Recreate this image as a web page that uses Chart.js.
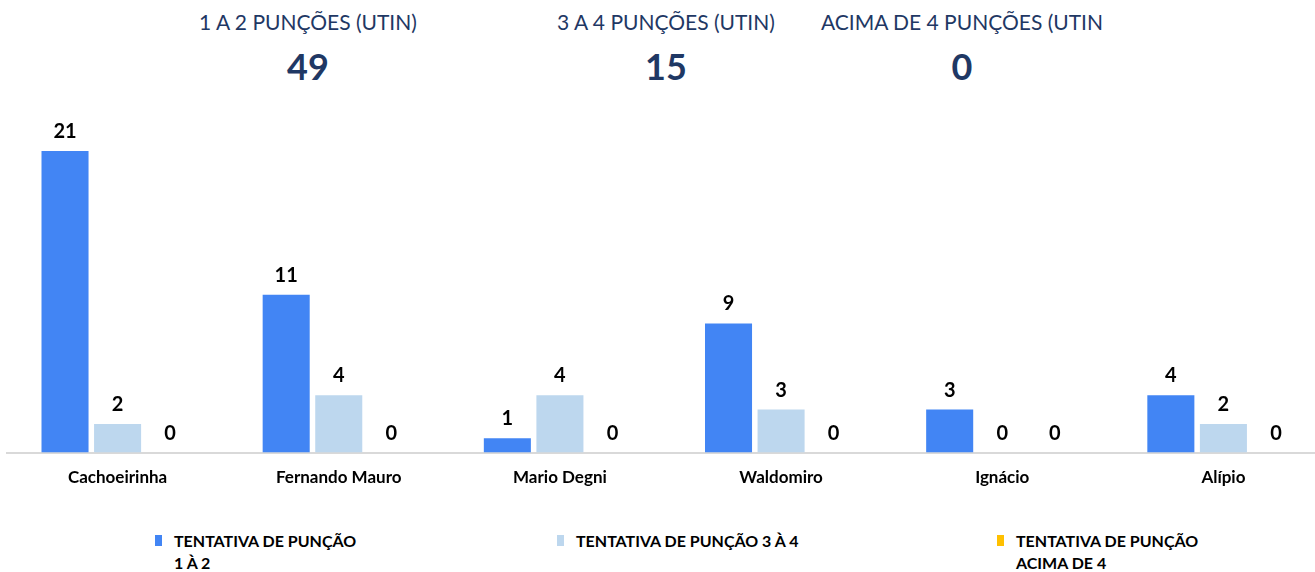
<!DOCTYPE html>
<html>
<head>
<meta charset="utf-8">
<script src="https://cdn.jsdelivr.net/npm/chart.js@4"></script>
<style>
    body { margin: 0; width: 1315px; height: 572px; overflow: hidden; background: #fff;
           font-family: Lato, 'Open Sans', sans-serif; position: relative; }
    .kpi { position: absolute; width: 320px; text-align: center; color: #1f3864; }
    .kpi .titulo { font-size: 21px; position: absolute; top: 9px; width: 100%; white-space: nowrap; }
    .kpi .valor { font-size: 36px; font-weight: bold; position: absolute; top: 44px; width: 100%; }
    #grafica { position: absolute; left: 0; top: 0; }
    .leyenda { position: absolute; top: 530px; font-size: 16px; font-weight: bold; color: #000; line-height: 22px; white-space: nowrap; }
    .leyenda span.caja { position: absolute; left: -19px; top: 5px; width: 7px; height: 11px; }
</style>
</head>
<body>
<div class="kpi" style="left:148px"><div class="titulo">1 A 2 PUNÇÕES (UTIN)</div><div class="valor">49</div></div>
<div class="kpi" style="left:506px"><div class="titulo">3 A 4 PUNÇÕES (UTIN)</div><div class="valor">15</div></div>
<div class="kpi" style="left:802px"><div class="titulo">ACIMA DE 4 PUNÇÕES (UTIN</div><div class="valor">0</div></div>

<canvas id="grafica" width="1334" height="503"></canvas>

<div class="leyenda" style="left:174px"><span class="caja" style="background:#4285f4"></span>TENTATIVA DE PUNÇÃO<br>1 À 2</div>
<div class="leyenda" style="left:576px"><span class="caja" style="background:#bdd7ee"></span>TENTATIVA DE PUNÇÃO 3 À 4</div>
<div class="leyenda" style="left:1016px"><span class="caja" style="background:#ffc000"></span>TENTATIVA DE PUNÇÃO<br>ACIMA DE 4</div>

<script>
const unidades = ['Cachoeirinha', 'Fernando Mauro', 'Mario Degni', 'Waldomiro', 'Ignácio', 'Alípio'];
const puncao1a2 = [21, 11, 1, 9, 3, 4];
const puncao3a4 = [2, 4, 4, 3, 0, 2];
const puncaoAcima4 = [0, 0, 0, 0, 0, 0];
const nomesSeries = ['TENTATIVA DE PUNÇÃO 1 À 2', 'TENTATIVA DE PUNÇÃO 3 À 4', 'TENTATIVA DE PUNÇÃO ACIMA DE 4'];

const fonte = "Lato, 'Open Sans', sans-serif";

// Escreve o valor em cima de cada barra
const rotulosValores = {
    id: 'rotulosValores',
    afterDatasetsDraw(chart) {
        const ctx = chart.ctx;
        ctx.save();
        ctx.font = 'bold 20px ' + fonte;
        ctx.fillStyle = '#000';
        ctx.textAlign = 'center';
        ctx.textBaseline = 'alphabetic';
        chart.data.datasets.forEach((ds, i) => {
            chart.getDatasetMeta(i).data.forEach((barra, j) => {
                ctx.fillText(ds.data[j], barra.x, barra.y - 13);
            });
        });
        ctx.restore();
    }
};

new Chart(document.getElementById('grafica'), {
    type: 'bar',
    data: {
        labels: unidades,
        datasets: [
            { label: nomesSeries[0], data: puncao1a2, backgroundColor: '#4285f4' },
            { label: nomesSeries[1], data: puncao3a4, backgroundColor: '#bdd7ee' },
            { label: nomesSeries[2], data: puncaoAcima4, backgroundColor: '#ffc000' }
        ]
    },
    options: {
        responsive: false,
        animation: false,
        devicePixelRatio: 1,
        categoryPercentage: 0.713,
        barPercentage: 0.895,
        layout: { padding: { left: 7, right: 0, top: 108, bottom: 0 } },
        scales: {
            x: {
                grid: { display: false, drawTicks: false },
                border: { color: '#d9d9d9', width: 2 },
                ticks: { color: '#000', padding: 15, font: { family: fonte, size: 17, weight: 'bold' } }
            },
            y: {
                display: false,
                min: 0,
                max: 24,
                beginAtZero: true
            }
        },
        plugins: {
            legend: { display: false },
            tooltip: { enabled: false }
        }
    },
    plugins: [rotulosValores]
});
</script>
</body>
</html>
